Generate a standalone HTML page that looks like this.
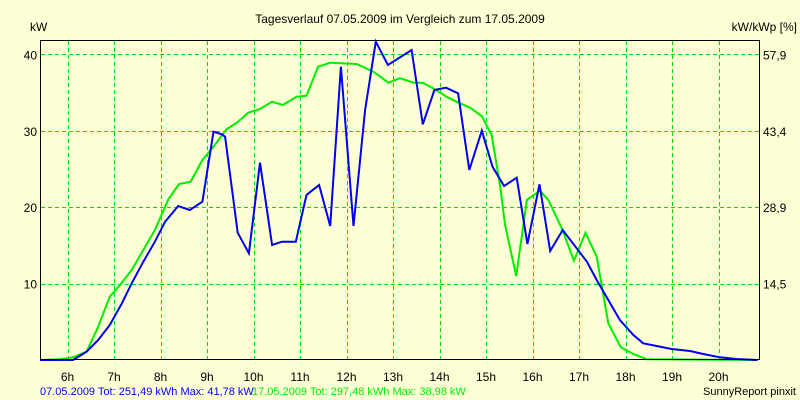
<!DOCTYPE html>
<html><head><meta charset="utf-8"><style>
body{margin:0;background:#FFFFD6;}
svg{display:block;font-family:"Liberation Sans",Arial,sans-serif;}
</style></head><body>
<svg id="chart" width="800" height="400" viewBox="0 0 800 400">
<rect x="0" y="0" width="800" height="400" fill="#FFFFD6"/>
<text x="400" y="23" text-anchor="middle" font-size="12" fill="#000">Tagesverlauf 07.05.2009 im Vergleich zum 17.05.2009</text>
<text x="30" y="31" font-size="12" fill="#000">kW</text>
<text x="797" y="31" text-anchor="end" font-size="12" fill="#000">kW/kWp [%]</text>
<g id="grid"></g>
<g id="series"></g>
<rect x="40.5" y="40.5" width="719" height="319" fill="none" stroke="#000" stroke-width="1"/>
<g id="labels"></g>
<text x="40" y="395" font-size="11" fill="#0000FF">07.05.2009 Tot: 251,49 kWh Max: 41,78 kW</text>
<text x="252" y="395" font-size="11" fill="#00EE00">17.05.2009 Tot: 297,48 kWh Max: 38,98 kW</text>
<text x="796" y="395" text-anchor="end" font-size="11" fill="#000">SunnyReport pinxit</text>
</svg>
<script>
const xTicks = [6,7,8,9,10,11,12,13,14,15,16,17,18,19,20];
const yTicks = [10,20,30,40];
const yRightLabels = ["14,5","28,9","43,4","57,9"];
const blueT = [5.41,6.12,6.41,6.66,6.91,7.17,7.38,7.63,7.88,8.10,8.38,8.63,8.90,9.14,9.32,9.39,9.66,9.90,10.14,10.40,10.61,10.91,11.14,11.41,11.65,11.88,12.15,12.40,12.63,12.89,13.40,13.64,13.89,14.14,14.40,14.64,14.91,15.14,15.39,15.66,15.89,16.15,16.38,16.65,16.95,17.17,17.38,17.63,17.88,18.17,18.38,18.67,18.99,19.39,19.67,20.03,20.39,20.84];
const blueV = [0,0,1.09,2.62,4.58,7.42,10.04,12.87,15.48,18.10,20.16,19.63,20.72,29.88,29.54,29.23,16.66,13.97,25.82,15.05,15.48,15.48,21.6,22.9,17.54,38.39,17.54,32.72,41.66,38.61,40.58,30.85,35.34,35.64,34.91,24.87,30.01,25.30,22.77,23.86,15.18,23.0,14.27,17.02,14.62,12.87,10.47,7.85,5.24,3.27,2.19,1.83,1.44,1.18,0.79,0.35,0.13,0];
const greenT = [5.41,5.84,6.12,6.41,6.66,6.91,7.13,7.38,7.63,7.88,8.17,8.40,8.65,8.90,9.14,9.42,9.64,9.89,10.14,10.40,10.63,10.93,11.14,11.39,11.65,12.22,12.58,12.90,13.15,13.44,13.64,13.90,14.15,14.44,14.66,14.91,15.12,15.30,15.41,15.65,15.88,16.16,16.34,16.63,16.89,17.14,17.38,17.63,17.90,18.17,18.46,20.84];
const greenV = [0,0.1,0.35,1.09,4.36,8.29,9.82,11.78,14.40,17.02,21.03,23.04,23.34,26.18,27.92,30.20,31.06,32.37,32.85,33.81,33.38,34.46,34.59,38.39,38.91,38.74,37.74,36.30,36.88,36.30,36.30,35.43,34.46,33.60,33.02,31.94,29.45,22.91,17.67,10.99,20.94,22.16,20.94,17.24,13.0,16.66,13.52,4.80,1.66,0.79,0.09,0];

const NS="http://www.w3.org/2000/svg";
function xs(t){return 67.5+(t-6)*46.5;}
function ys(v){return 360-v*7.64;}
const grid=document.getElementById('grid');
const labels=document.getElementById('labels');
xTicks.forEach(h=>{
  const l=document.createElementNS(NS,'line');
  
  
  const x=Math.round(xs(h))+0.5;
  l.setAttribute('x1',x);l.setAttribute('x2',x);l.setAttribute('y1',41);l.setAttribute('y2',359);
  l.setAttribute('stroke','#00E000');l.setAttribute('stroke-dasharray','4 3');
  grid.appendChild(l);
  const t=document.createElementNS(NS,'text');
  
  
  t.setAttribute('x',xs(h));t.setAttribute('y',381);t.setAttribute('text-anchor','middle');t.setAttribute('font-size','12');
  t.textContent=h+'h';labels.appendChild(t);
});
yTicks.forEach((v,i)=>{
  const l=document.createElementNS(NS,'line');
  
  
  const y=Math.round(ys(v))+0.5;
  l.setAttribute('x1',41);l.setAttribute('x2',759);l.setAttribute('y1',y);l.setAttribute('y2',y);
  l.setAttribute('stroke','#00E000');l.setAttribute('stroke-dasharray','4 3');
  grid.appendChild(l);
  const t=document.createElementNS(NS,'text');
  
  
  t.setAttribute('x',37);t.setAttribute('y',ys(v)+5);t.setAttribute('text-anchor','end');t.setAttribute('font-size','12');
  t.textContent=v;labels.appendChild(t);
  const r=document.createElementNS(NS,'text');
  
  
  r.setAttribute('x',763);r.setAttribute('y',ys(v)+5);r.setAttribute('font-size','12');
  r.textContent=yRightLabels[i];labels.appendChild(r);
});
const series=document.getElementById('series');
function drawLine(T,V,color,name){
  const p=document.createElementNS(NS,'polyline');
  
  
  p.setAttribute('points',T.map((t,i)=>xs(t).toFixed(1)+','+ys(V[i]).toFixed(1)).join(' '));
  p.setAttribute('fill','none');p.setAttribute('stroke',color);p.setAttribute('stroke-width','2');
  series.appendChild(p);
}
drawLine(greenT,greenV,'#00EE00','line-17-05-2009');
drawLine(blueT,blueV,'#0000EE','line-07-05-2009');
</script>
</body></html>
